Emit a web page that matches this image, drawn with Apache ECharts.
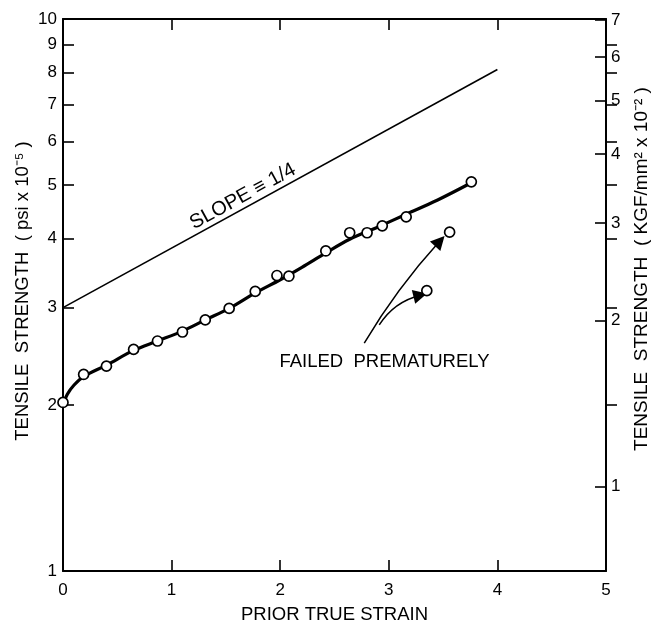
<!DOCTYPE html>
<html><head><meta charset="utf-8">
<script src="https://cdn.jsdelivr.net/npm/echarts@6/dist/echarts.min.js"></script>
<style>html,body{margin:0;padding:0;background:#fff}#c{width:652px;height:623px}</style>
</head><body><div id="c"></div>
<script>
// measured specimens (prior true strain vs tensile strength, psi x 1e-5)
const strain   = [0, 0.19, 0.40, 0.65, 0.87, 1.10, 1.31, 1.53, 1.77, 1.97, 2.08, 2.42, 2.64, 2.80, 2.94, 3.16, 3.76];
const strength = [2.02, 2.27, 2.35, 2.52, 2.61, 2.71, 2.85, 2.99, 3.21, 3.43, 3.42, 3.80, 4.10, 4.10, 4.22, 4.38, 5.07];
// specimens that failed prematurely
const failedStrain   = [3.56, 3.35];
const failedStrength = [4.11, 3.22];
// hand-drawn fitted curve
const curveStrain   = [0, 0.04, 0.10, 0.19, 0.40, 0.65, 0.87, 1.10, 1.31, 1.53, 1.77, 2.00, 2.20, 2.42, 2.64, 2.90, 3.16, 3.45, 3.76];
const curveStrength = [2.00, 2.09, 2.17, 2.25, 2.36, 2.51, 2.61, 2.72, 2.85, 2.99, 3.19, 3.37, 3.55, 3.77, 3.99, 4.20, 4.43, 4.70, 5.05];
// reference line "slope = 1/4"
const slopeStrain   = [0, 4];
const slopeStrength = [3.0, 8.1];
// annotation arrows (data coordinates: strain, strength)
const arrowFrom = [[2.774, 2.588], [2.912, 2.791]];
const arrowTo   = [[3.47, 3.96], [3.29, 3.16]];
const arrowCurve = [0.05, 0.2];
// text anchors (data coordinates)
const slopeLabelAt  = [1.70, 4.60];
const failedLabelAt = [2.96, 2.39];
// tick labels / tick marks
const xTicks        = [0, 1, 2, 3, 4, 5];
const leftTicks     = [1, 2, 3, 4, 5, 6, 7, 8, 9, 10];
const leftTickMarks = [2, 3, 4, 5, 6, 7, 8, 9];
const rightTicks    = [1, 2, 3, 4, 5, 6, 7];
const PSI_TO_KGF = 0.70307; // psi x1e-5 -> kgf/mm^2 x1e-2
const LEFT_MIN = 1, LEFT_MAX = 10;

const FONT = 'Liberation Sans';
const zip = (a, b) => a.map((v, i) => [v, b[i]]);

const GRID = {left: 63, right: 46, top: 19, bottom: 52};
const chart = echarts.init(document.getElementById('c'), null, {renderer: 'canvas'});
const axisLine = {show: true, onZero: false, lineStyle: {color: '#000', width: 2}};
const tick = (vals, inside) => ({show: true, inside: inside, length: 11, lineStyle: {color: '#000', width: 1.6},
                       customValues: vals});
const label = (vals, margin, fmt) => ({show: true, margin, color: '#000', fontFamily: FONT, fontSize: 17,
                       customValues: vals, formatter: fmt});
const intFmt = v => String(Math.round(v));
const plotWidth = 652 - GRID.left - GRID.right;
const option = {
  animation: false,
  backgroundColor: '#fff',
  grid: Object.assign({containLabel: false, outerBoundsMode: 'none'}, GRID),
  xAxis: [
    {type: 'value', position: 'bottom', min: 0, max: 5, interval: 1,
     axisLine, axisTick: tick(xTicks, true), splitLine: {show: false},
     axisLabel: label(xTicks, 11, intFmt),
     name: 'PRIOR TRUE STRAIN', nameLocation: 'middle', nameGap: 34,
     nameTextStyle: {color: '#000', fontFamily: FONT, fontSize: 18.5}},
    {type: 'value', position: 'top', min: 0, max: 5, interval: 1,
     axisLine, axisTick: tick(xTicks, true), splitLine: {show: false}, axisLabel: {show: false}}
  ],
  yAxis: [
    {type: 'log', logBase: 10, position: 'left', min: LEFT_MIN, max: LEFT_MAX,
     axisLine, splitLine: {show: false},
     axisTick: tick(leftTickMarks, true),
     axisLabel: label(leftTicks, 6, intFmt),
     name: 'TENSILE  STRENGTH  ( psi x 10\u207B\u2075 )', nameLocation: 'middle', nameRotate: 90, nameGap: 31,
     nameMoveOverlap: false,
     nameTextStyle: {color: '#000', fontFamily: FONT, fontSize: 18.5, padding: [0, 0, 0, 8]}},
    {type: 'log', logBase: 10, position: 'right', min: LEFT_MIN * PSI_TO_KGF, max: LEFT_MAX * PSI_TO_KGF,
     axisLine, splitLine: {show: false},
     axisTick: tick(rightTicks, true),
     axisLabel: label(rightTicks, 5, intFmt),
     name: 'TENSILE  STRENGTH  ( KGF/mm\u00B2 x 10\u207B\u00B2 )', nameLocation: 'middle', nameRotate: 90, nameGap: 26,
     nameMoveOverlap: false,
     nameTextStyle: {color: '#000', fontFamily: FONT, fontSize: 19, padding: [0, 0, 0, 52]}},
    // psi tick marks along the left frame edge (same psi scale)
    {type: 'log', logBase: 10, position: 'right', offset: -plotWidth, min: LEFT_MIN, max: LEFT_MAX,
     axisLine: {show: false}, splitLine: {show: false}, axisLabel: {show: false},
     axisTick: tick(leftTickMarks, false)}
  ],
  series: [
    {type: 'line', name: 'slope', data: zip(slopeStrain, slopeStrength), symbol: 'none',
     lineStyle: {color: '#000', width: 1.6}, z: 2},
    {type: 'line', name: 'fit', data: zip(curveStrain, curveStrength), symbol: 'none', smooth: 0.35,
     lineStyle: {color: '#000', width: 3.2}, z: 3},
    {type: 'scatter', name: 'data', data: zip(strain, strength), symbol: 'circle', symbolSize: 10,
     itemStyle: {color: '#fff', borderColor: '#000', borderWidth: 1.7, opacity: 1}, z: 5},
    {type: 'scatter', name: 'failed', data: zip(failedStrain, failedStrength), symbol: 'circle', symbolSize: 10,
     itemStyle: {color: '#fff', borderColor: '#000', borderWidth: 1.7, opacity: 1}, z: 5},
    {type: 'lines', coordinateSystem: 'cartesian2d', symbol: ['none', 'triangle'], symbolSize: [7, 14],
     data: arrowFrom.map((f, i) => ({coords: [f, arrowTo[i]], lineStyle: {curveness: arrowCurve[i]}})),
     lineStyle: {color: '#000', width: 1.5, opacity: 1}, itemStyle: {color: '#000'}, z: 4}
  ]
};
chart.setOption(option);

const finder = {xAxisIndex: 0, yAxisIndex: 0};
const p1 = chart.convertToPixel(finder, [slopeStrain[0], slopeStrength[0]]);
const p2 = chart.convertToPixel(finder, [slopeStrain[1], slopeStrength[1]]);
const ang = Math.atan2(p1[1] - p2[1], p2[0] - p1[0]);
const sPos = chart.convertToPixel(finder, slopeLabelAt);
const fPos = chart.convertToPixel(finder, failedLabelAt);
chart.setOption({
  graphic: [
    {type: 'text', x: sPos[0], y: sPos[1], rotation: ang, z: 10,
     style: {text: 'SLOPE \u2261 1/4', fill: '#000', font: '20px "' + FONT + '"', align: 'center', verticalAlign: 'bottom'}},
    {type: 'text', x: fPos[0], y: fPos[1], z: 10,
     style: {text: 'FAILED  PREMATURELY', fill: '#000', font: '18.5px "' + FONT + '"', align: 'center', verticalAlign: 'middle'}}
  ]
});
</script></body></html>
